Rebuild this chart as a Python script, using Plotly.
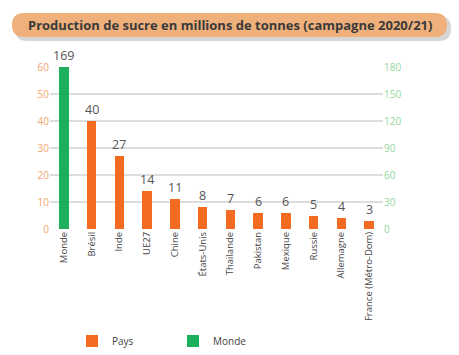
import plotly.graph_objects as go

categories = ["Monde", "Brésil", "Inde", "UE27", "Chine", "États-Unis", "Thaïlande",
              "Pakistan", "Mexique", "Russie", "Allemagne", "France (Métro-Dom)"]
values = [169, 40, 27, 14, 11, 8, 7, 6, 6, 5, 4, 3]
groups = ["Monde"] + ["Pays"] * 11
left_ticks = [0, 10, 20, 30, 40, 50, 60]
right_ticks = [0, 30, 60, 90, 120, 150, 180]
title_text = "Production de sucre en millions de tonnes (campagne 2020/21)"

ORANGE = "#F26B21"
GREEN = "#1DB05A"
W, H = 459, 355
OFF = 8  # page body margin
# target screen positions of plot area
SX0, SX1, SY0, SY1 = 50, 383, 67, 229
L, R, T, B = SX0 - OFF, W - (SX1 - OFF), SY0 - OFF, H - (SY1 - OFF)
pw, ph = W - L - R, H - T - B
YMAX = 60

fig = go.Figure()
for name, color in [("Pays", ORANGE), ("Monde", GREEN)]:
    xs = [c for c, g in zip(categories, groups) if g == name]
    ys = [v for v, g in zip(values, groups) if g == name]
    fig.add_bar(x=xs, y=ys, name=name, marker_color=color, width=0.35,
                marker_line_width=0)
fig.add_scatter(x=[categories[0]], y=[0], yaxis="y2", mode="markers",
                marker_opacity=0, showlegend=False, hoverinfo="skip")

for c, v in zip(categories, values):
    fig.add_annotation(x=c, y=min(v, YMAX), text=str(v), showarrow=False,
                       yanchor="bottom", yshift=1,
                       font=dict(size=12.5, color="#555555", family="Open Sans"))

def px2paper(sx, sy):
    return (sx - SX0) / pw, (SY1 - sy) / ph

def pill(x0, y0, x1, y1, r):
    def P(x, y):
        xx, yy = px2paper(x, y)
        return f"{xx:.5f},{yy:.5f}"
    return (f"M {P(x0 + r, y0)} L {P(x1 - r, y0)} Q {P(x1, y0)} {P(x1, y0 + r)} "
            f"L {P(x1, y1 - r)} Q {P(x1, y1)} {P(x1 - r, y1)} L {P(x0 + r, y1)} "
            f"Q {P(x0, y1)} {P(x0, y1 - r)} L {P(x0, y0 + r)} Q {P(x0, y0)} {P(x0 + r, y0)} Z")

fig.add_shape(type="path", path=pill(15, 16, 451, 41, 12), xref="paper", yref="paper",
              fillcolor="rgba(0,0,0,0.16)", line_width=0, layer="below")
fig.add_shape(type="path", path=pill(12, 13, 447, 37, 12), xref="paper", yref="paper",
              fillcolor="#EFB07B", line_width=0, layer="below")
tx, ty = px2paper(229.5, 25)
fig.add_annotation(x=tx, y=ty, xref="paper", yref="paper", text=f"<b>{title_text}</b>",
                   showarrow=False, xanchor="center", yanchor="middle",
                   font=dict(size=13, color="#3a3a3a", family="Open Sans"))

lx, ly = px2paper(72, 341)
fig.update_layout(
    width=W, height=H, margin=dict(l=L, r=R, t=T, b=B, autoexpand=False),
    paper_bgcolor="white", plot_bgcolor="white",
    barmode="overlay", bargap=0,
    font=dict(family="Open Sans", color="#444444"),
    xaxis=dict(categoryorder="array", categoryarray=categories, tickangle=-90,
               range=[-0.5, len(categories) - 0.5],
               tickfont=dict(size=9.5, color="#444444"), showgrid=False,
               showline=False, ticks="", zeroline=False, automargin=False),
    yaxis=dict(range=[0, YMAX], tickvals=left_ticks, showgrid=True,
               gridcolor="#DDDDDD", gridwidth=2, zeroline=False, automargin=False,
               tickfont=dict(size=10, color="#F4A56E"), ticks="", ticklen=0),
    yaxis2=dict(range=[0, 180], tickvals=right_ticks, overlaying="y", side="right",
                showgrid=False, zeroline=False, automargin=False,
                tickfont=dict(size=10, color="#94D69D")),
    legend=dict(orientation="h", x=lx, y=ly, xanchor="left", yanchor="middle",
                entrywidth=56, entrywidthmode="pixels", traceorder="normal",
                font=dict(size=10, color="#444444")),
    showlegend=True,
)
fig.write_html("out.html")
